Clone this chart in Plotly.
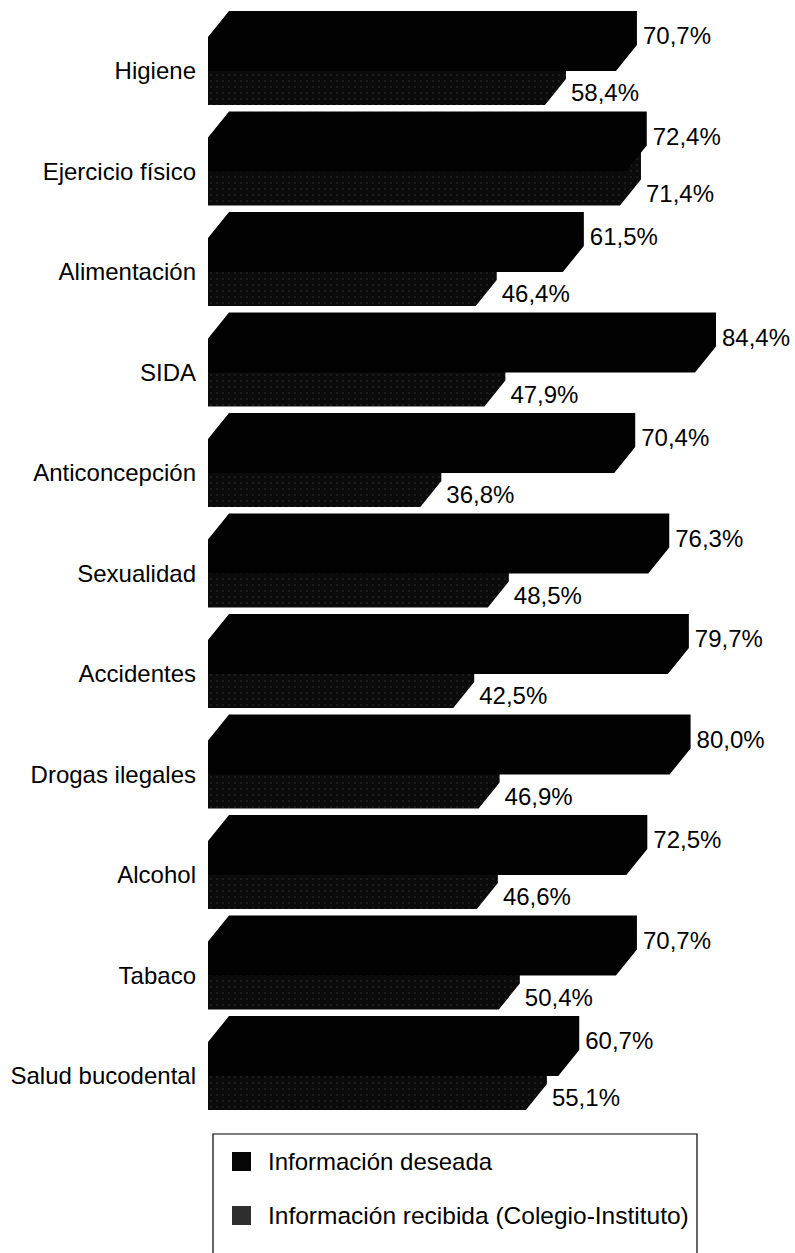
import plotly.graph_objects as go

# Temas de salud (de arriba abajo) y porcentajes de cada serie
categorias = ["Higiene", "Ejercicio físico", "Alimentación", "SIDA", "Anticoncepción",
              "Sexualidad", "Accidentes", "Drogas ilegales", "Alcohol", "Tabaco",
              "Salud bucodental"]
deseada = [70.7, 72.4, 61.5, 84.4, 70.4, 76.3, 79.7, 80.0, 72.5, 70.7, 60.7]
recibida = [58.4, 71.4, 46.4, 47.9, 36.8, 48.5, 42.5, 46.9, 46.6, 50.4, 55.1]
series = ["Información deseada", "Información recibida (Colegio-Instituto)"]

W, H = 795, 1253
ML = 208            # left margin: x = 0 sits here
PXU = 5.77          # pixels per percentage point
PITCH = 100.5       # pixels between categories
Y0 = 71             # pixel row of the first category's baseline
FONT = "Liberation Sans, Arial, Helvetica, sans-serif"

# 3D box geometry expressed in axis units
HF = 34 / PITCH     # front face height
DY = 26 / PITCH     # depth, vertical part
DX = 21 / PXU       # depth, horizontal part


def fmt(v):
    return f"{v:.1f}".replace(".", ",") + "%"


def box_black(i, v):
    b = i
    return ([0, 0, DX, v + DX, v + DX, v, 0, None],
            [b, b - HF, b - HF - DY, b - HF - DY, b - DY, b, b, None])


def box_gray(i, v):
    b = i
    return ([0, 0, DX, v + DX, v + DX, v, 0, None],
            [b + HF, b, b - DY, b - DY, b + HF - DY, b + HF, b + HF, None])


def collect(fn, vals):
    xs, ys = [], []
    for i, v in enumerate(vals):
        x, y = fn(i, v)
        xs += x
        ys += y
    return xs, ys


fig = go.Figure()

gx, gy = collect(box_gray, recibida)
fig.add_trace(go.Scatter(
    x=gx, y=gy, mode="lines", fill="toself", name=series[1],
    line=dict(width=0, color="#0c0c0c"), fillcolor="#0c0c0c",
    fillpattern=dict(shape=".", fgcolor="#3c3c3c", bgcolor="#0b0b0b",
                     size=6, solidity=0.08),
    hoverinfo="skip", showlegend=False))

bx, by = collect(box_black, deseada)
fig.add_trace(go.Scatter(
    x=bx, y=by, mode="lines", fill="toself", name=series[0],
    line=dict(width=0, color="#020202"), fillcolor="#020202",
    hoverinfo="skip", showlegend=False))

# value labels next to the back edge of each box
idx = list(range(len(categorias)))
fig.add_trace(go.Scatter(
    x=[v + DX + 6 / PXU for v in deseada],
    y=[i - HF + 1 / PITCH for i in idx],
    mode="text", text=[fmt(v) for v in deseada], textposition="middle right",
    textfont=dict(family=FONT, size=24, color="#000"),
    hoverinfo="skip", showlegend=False, cliponaxis=False))
fig.add_trace(go.Scatter(
    x=[v + DX + 5 / PXU for v in recibida],
    y=[i + 24 / PITCH for i in idx],
    mode="text", text=[fmt(v) for v in recibida], textposition="middle right",
    textfont=dict(family=FONT, size=24, color="#000"),
    hoverinfo="skip", showlegend=False, cliponaxis=False))


# legend box drawn in pixel positions converted to paper coordinates
def px(x):
    return (x - ML) / (W - ML)


def py(y):
    return 1 - y / H


shapes = [
    dict(type="rect", xref="paper", yref="paper", x0=px(213), x1=px(697),
         y0=py(1262), y1=py(1134), line=dict(color="#000", width=1.2),
         fillcolor="rgba(0,0,0,0)"),
    dict(type="rect", xref="paper", yref="paper", x0=px(232), x1=px(251),
         y0=py(1171), y1=py(1152), line=dict(width=0), fillcolor="#050505"),
    dict(type="rect", xref="paper", yref="paper", x0=px(232), x1=px(251),
         y0=py(1225), y1=py(1206), line=dict(width=0), fillcolor="#2e2e2e"),
]
annotations = [
    dict(xref="paper", yref="paper", x=px(266), y=py(1161), text=series[0],
         showarrow=False, xanchor="left", yanchor="middle",
         font=dict(family=FONT, size=24, color="#000")),
    dict(xref="paper", yref="paper", x=px(266), y=py(1215), text=series[1],
         showarrow=False, xanchor="left", yanchor="middle",
         font=dict(family=FONT, size=24.5, color="#000")),
]

fig.update_layout(
    width=W, height=H,
    margin=dict(l=ML, r=0, t=0, b=0, autoexpand=False),
    paper_bgcolor="white", plot_bgcolor="white",
    shapes=shapes, annotations=annotations,
    xaxis=dict(range=[0, (W - ML) / PXU], visible=False, fixedrange=True),
    yaxis=dict(range=[(H - Y0) / PITCH, -Y0 / PITCH], tickvals=idx,
               ticktext=categorias, ticks="", showgrid=False, zeroline=False,
               showline=False, ticklabelstandoff=11,
               tickfont=dict(family=FONT, size=24, color="#000"),
               fixedrange=True),
)

fig.write_html("out.html")
